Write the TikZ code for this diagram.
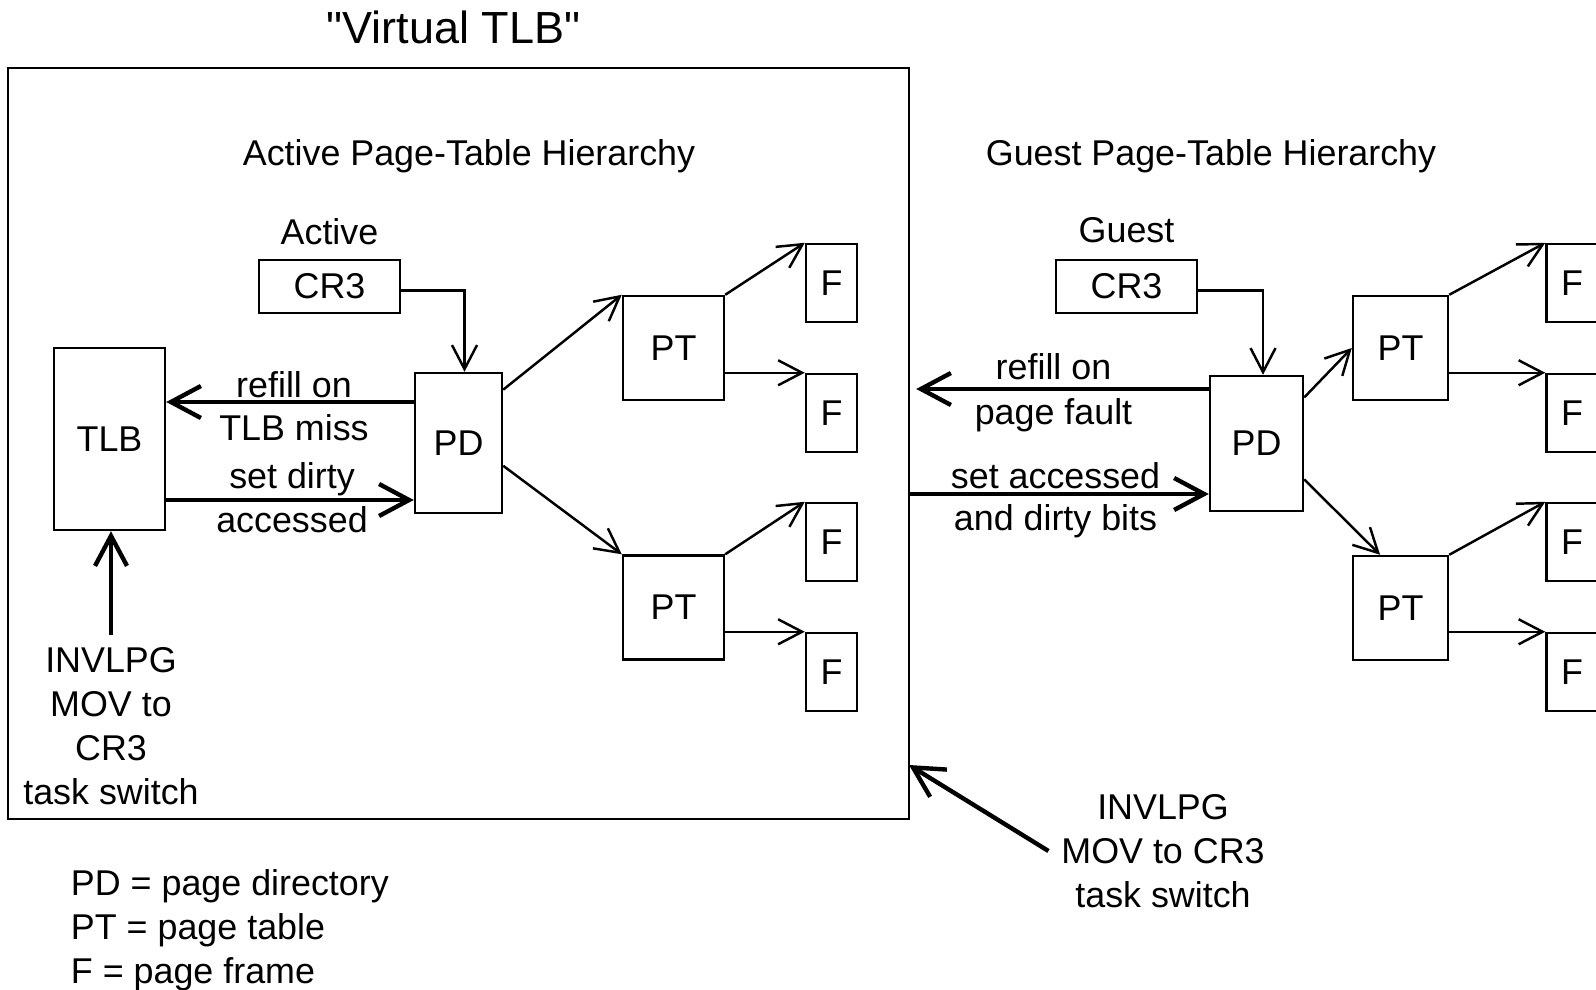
\documentclass[tikz,border=0pt]{standalone}
\usepackage{fontspec}
\setmainfont{Liberation Sans}
\usetikzlibrary{arrows.meta,positioning}

\begin{document}
\begin{tikzpicture}[x=0.1mm, y=-0.1mm, line width=0.7pt,
    font=\fontsize{10.2}{12.45}\selectfont,
    >={Straight Barb[length=2.4mm,width=2.5mm]},
    main/.style = {draw, rectangle, inner sep=0pt},
    fbox/.style = {main, minimum width=5.1mm, minimum height=7.8mm},
    big/.style = {line width=1.25pt, -{Straight Barb[length=3mm,width=3.2mm]}},
    lbl/.style = {inner sep=0pt}]

    \useasboundingbox (0,0) rectangle (1596,990);

    % Disegna i riquadri e i titoli
    \node[main, minimum width=90.1mm, minimum height=75.1mm] (vtlb) at (458.5,443.5) {};
    \node[anchor=base, font=\fontsize{12.8}{15}\selectfont] (titolo) at (453.5,44) {\textquotedbl Virtual TLB\textquotedbl};
    \node[anchor=base] (atit) at (469,166) {Active Page-Table Hierarchy};
    \node[anchor=base] (gtit) at (1211,166) {Guest Page-Table Hierarchy};

    % Gerarchia attiva
    \node[main, minimum width=14.1mm, minimum height=5.3mm] (acr3) at (329.5,286.5) {CR3};
    \node (aname) [above of = acr3, node distance=5.5mm] {Active};
    \node[main, minimum width=11.1mm, minimum height=18.2mm] (tlb) at (109.5,439) {TLB};
    \node[main, minimum width=8.7mm, minimum height=14mm] (apd) at (458.5,443) {PD};
    \node[main, minimum width=10.1mm, minimum height=10.4mm] (apt1) at (673.5,348) {PT};
    \node[main, minimum width=10.1mm, minimum height=10.4mm] (apt2) at (673.5,607.5) {PT};
    \node[fbox] (af1) at (831.5,283) {F};
    \node[fbox] (af2) at (831.5,413) {F};
    \node[fbox] (af3) at (831.5,542) {F};
    \node[fbox] (af4) at (831.5,672) {F};
    \node[anchor=north, align=center] (ainv) at (111,635) {INVLPG\\MOV to\\CR3\\task switch};

    % Gerarchia guest
    \node[main, minimum width=14.1mm, minimum height=5.3mm] (gcr3) at (1126.5,286.5) {CR3};
    \node (gname) [above of = gcr3, node distance=5.65mm] {Guest};
    \node[main, minimum width=9.3mm, minimum height=13.5mm] (gpd) at (1256.5,443.5) {PD};
    \node[main, minimum width=9.5mm, minimum height=10.4mm] (gpt1) at (1400.5,348) {PT};
    \node[main, minimum width=9.5mm, minimum height=10.4mm] (gpt2) at (1400.5,608) {PT};
    \node[fbox] (gf1) at (1572,283) {F};
    \node[fbox] (gf2) at (1572,413) {F};
    \node[fbox] (gf3) at (1572,542) {F};
    \node[fbox] (gf4) at (1572,672) {F};
    \node[align=center] (ginv) at (1163,851) {INVLPG\\MOV to CR3\\task switch};

    \node[anchor=north west, align=left] (legenda) at (58,857) {PD = page directory\\PT = page table\\F = page frame};

    % Disegna gli archi
    \draw[->] ([yshift=-0.4mm]acr3.east) -| ([xshift=0.6mm]apd.north);
    \draw[->] (apd.50) -- (apt1.north west);
    \draw[->] (apd.-27) -- (apt2.north west);
    \draw[->] (apt1.north east) -- (af1.north west);
    \draw[->] (apt1.east |- af2.north west) -- (af2.north west);
    \draw[->] (apt2.north east) -- (af3.north west);
    \draw[->] (apt2.east |- af4.north west) -- (af4.north west);

    \draw[->] ([yshift=-0.4mm]gcr3.east) -| ([xshift=0.65mm]gpd.north);
    \draw[->] (gpd.44) -- (gpt1.west);
    \draw[->] (gpd.-37) -- (gpt2.111);
    \draw[->] (gpt1.north east) -- (gf1.north west);
    \draw[->] (gpt1.east |- gf2.north west) -- (gf2.north west);
    \draw[->] (gpt2.north east) -- (gf3.north west);
    \draw[->] (gpt2.east |- gf4.north west) -- (gf4.north west);

    % Archi spessi
    \coordinate (arefill) at ([yshift=4.1mm]apd.west);
    \coordinate (adirty) at ([yshift=-5.7mm]apd.west);
    \draw[big] (arefill) -- node[lbl, above=0.2mm, xshift=0.4mm] (lref) {refill on}
        node[lbl, below=1.0mm, xshift=0.4mm] (lmiss) {TLB miss} (arefill -| tlb.east);
    \draw[big] (adirty -| tlb.east) -- node[lbl, above=0.15mm, xshift=0.2mm] (lset) {set dirty}
        node[lbl, below=0.4mm, xshift=0.2mm] (lacc) {accessed} (adirty);
    \draw[big] (ainv.north) -- (ainv.north |- tlb.south);

    \coordinate (grefill) at ([yshift=5.45mm]gpd.west);
    \coordinate (gset) at ([yshift=-5.05mm]gpd.west);
    \coordinate (gtip) at (909,765);
    \draw[big, shorten >=0.6mm] (grefill) -- node[lbl, above=0.7mm, xshift=-0.6mm] (gref) {refill on}
        node[lbl, below=0.7mm, xshift=-0.6mm] (gfault) {page fault} (grefill -| vtlb.east);
    \draw[big] (gset -| vtlb.east) -- node[lbl, above=0.3mm, xshift=-0.4mm] (gacc) {set accessed}
        node[lbl, below=0.8mm, xshift=-0.4mm] (gbits) {and dirty bits} (gset);
    \draw[big] (ginv.west) -- (gtip);

\end{tikzpicture}
\end{document}
